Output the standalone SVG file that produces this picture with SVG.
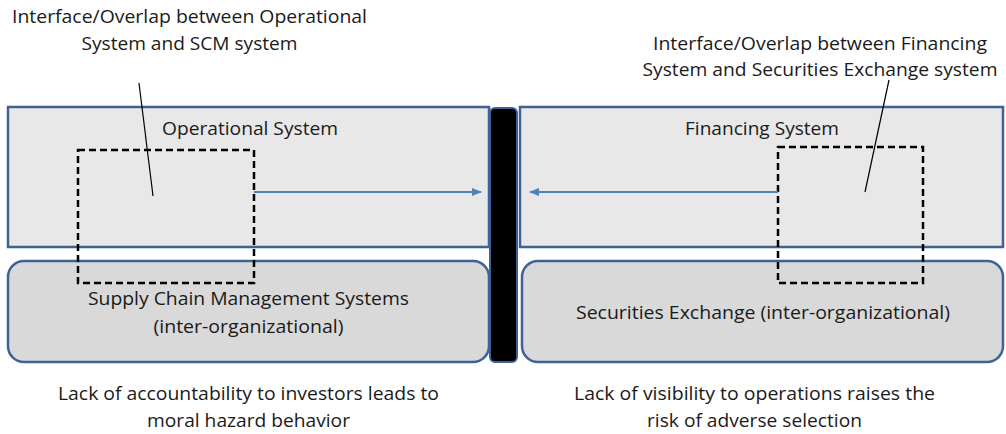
<svg xmlns="http://www.w3.org/2000/svg" width="1006" height="434" viewBox="0 0 1006 434">
<style>
text{font-family:"Open Sans","Liberation Sans",sans-serif;font-size:18.5px;fill:#1a1a1a;text-anchor:middle}
.sys{fill:#e8e8e8;stroke:#3f6195;stroke-width:2.5}
.ext{fill:#d9d9d9;stroke:#3f6195;stroke-width:2.5}
.dash{fill:none;stroke:#000;stroke-width:2.5;stroke-dasharray:7 4}
.arr{stroke:#4f81bd;stroke-width:2;fill:none}
.lead{stroke:#000;stroke-width:1.2;fill:none}
</style>
<defs>
<marker id="ah" markerWidth="10" markerHeight="8" refX="9" refY="4" orient="auto" markerUnits="userSpaceOnUse">
<path d="M0,0 L10,4 L0,8 Z" fill="#4f81bd"/>
</marker>
</defs>
<g id="operational-system">
<rect class="sys" x="8" y="107" width="481" height="140"/>
<text x="250" y="135" textLength="176" lengthAdjust="spacingAndGlyphs">Operational System</text>
</g>
<g id="financing-system">
<rect class="sys" x="520" y="107" width="483" height="140"/>
<text x="762" y="135" textLength="154" lengthAdjust="spacingAndGlyphs">Financing System</text>
</g>
<g id="scm-systems">
<rect class="ext" x="8" y="261" width="481" height="101" rx="16"/>
<text x="248.5" y="305" textLength="321" lengthAdjust="spacingAndGlyphs">Supply Chain Management Systems</text>
<text x="248.5" y="333" textLength="190" lengthAdjust="spacingAndGlyphs">(inter-organizational)</text>
</g>
<g id="securities-exchange">
<rect class="ext" x="522" y="261" width="481" height="101" rx="16"/>
<text x="763" y="319" textLength="374" lengthAdjust="spacingAndGlyphs">Securities Exchange (inter-organizational)</text>
</g>
<g id="barrier">
<rect x="490" y="108" width="27" height="254" rx="5" fill="#000" stroke="#3f6195" stroke-width="2"/>
</g>
<g id="overlap-left">
<rect class="dash" x="78" y="150" width="176" height="133"/>
</g>
<g id="overlap-right">
<rect class="dash" x="778" y="147" width="145" height="136"/>
</g>
<g id="label-left">
<text x="189.5" y="23" textLength="355" lengthAdjust="spacingAndGlyphs">Interface/Overlap between Operational</text>
<text x="189.5" y="50" textLength="216" lengthAdjust="spacingAndGlyphs">System and SCM system</text>
</g>
<g id="label-right">
<text x="820" y="50" textLength="334" lengthAdjust="spacingAndGlyphs">Interface/Overlap between Financing</text>
<text x="820" y="76" textLength="355" lengthAdjust="spacingAndGlyphs">System and Securities Exchange system</text>
</g>
<g id="note-left">
<text x="248.5" y="400" textLength="381" lengthAdjust="spacingAndGlyphs">Lack of accountability to investors leads to</text>
<text x="248.5" y="427" textLength="203" lengthAdjust="spacingAndGlyphs">moral hazard behavior</text>
</g>
<g id="note-right">
<text x="754.5" y="400" textLength="361" lengthAdjust="spacingAndGlyphs">Lack of visibility to operations raises the</text>
<text x="754.5" y="427" textLength="215" lengthAdjust="spacingAndGlyphs">risk of adverse selection</text>
</g>
<g id="connectors">
<line class="arr" x1="254" y1="192" x2="481" y2="192" marker-end="url(#ah)"/>
<line class="arr" x1="778" y1="192" x2="530" y2="192" marker-end="url(#ah)"/>
<line class="lead" x1="139" y1="83" x2="153" y2="196"/>
<line class="lead" x1="889" y1="80" x2="865" y2="192"/>
</g>
</svg>
